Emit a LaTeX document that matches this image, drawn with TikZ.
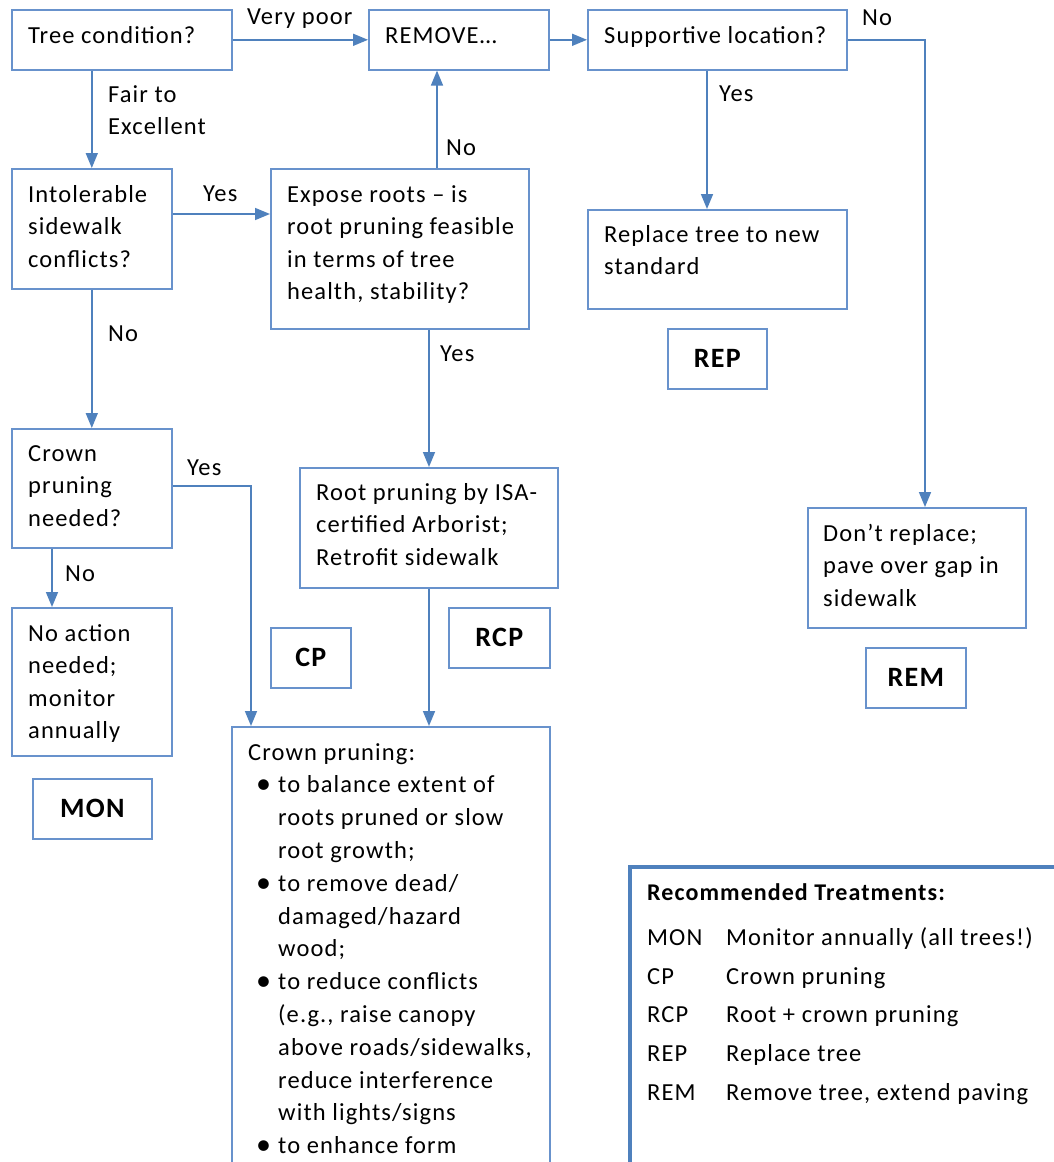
\documentclass[tikz,border=0pt]{standalone}
\usepackage{fontspec}
\setmainfont{Carlito}[LetterSpace=4.5]
\usetikzlibrary{arrows.meta}
\definecolor{linec}{RGB}{79,129,189}
\definecolor{boxc}{RGB}{104,146,204}
\newcommand\bl{\hspace*{8pt}\makebox[22pt][l]{\fontsize{30}{30}\selectfont\raisebox{-1pt}{•}}}
\newcommand\ct{\hspace*{30pt}}
\tikzset{
  bx/.style={draw=boxc, line width=1.6pt, inner sep=0pt, anchor=north west},
  code/.style={bx, font=\fontsize{28}{30}\selectfont\bfseries},
  txt/.style={inner sep=0pt, anchor=base west, font=\fontsize{24.5}{32.5}\selectfont},
  lbl/.style={inner sep=0pt, anchor=base west, font=\fontsize{24.5}{32.5}\selectfont},
  arr/.style={draw=linec, line width=1.6pt, -{Triangle[length=15pt,width=12pt]}},
  ln/.style={draw=linec, line width=1.6pt}
}
\begin{document}
\begin{tikzpicture}[x=1pt,y=-1pt]
\useasboundingbox (0,0) rectangle (1054,1162);
\clip (0,0) rectangle (1054,1162);
\fill[white] (0,0) rectangle (1054,1162);
% boxes
\node[bx, minimum width=220pt, minimum height=60pt] (tc) at (11,9) {};
\node[bx, minimum width=180pt, minimum height=60pt] (rem) at (368,9) {};
\node[bx, minimum width=259pt, minimum height=60pt] (sup) at (587,9) {};
\node[bx, minimum width=160pt, minimum height=120pt] (it) at (11,168) {};
\node[bx, minimum width=258pt, minimum height=160pt] (ex) at (270,168) {};
\node[bx, minimum width=259pt, minimum height=99pt] (rt) at (587,209) {};
\node[bx, minimum width=160pt, minimum height=119pt] (cn) at (11,428) {};
\node[bx, minimum width=258pt, minimum height=120pt] (rp) at (299,467) {};
\node[bx, minimum width=218pt, minimum height=120pt] (dr) at (807,507) {};
\node[bx, minimum width=160pt, minimum height=148pt] (na) at (11,607) {};
\node[bx, minimum width=318pt, minimum height=460pt] (cb) at (231,726) {};
\node[draw=linec, line width=4.5pt, inner sep=0pt, anchor=north west, minimum width=450pt, minimum height=330pt] (leg) at (627.5,864.5) {};
% code boxes
\node[code, minimum width=99pt, minimum height=60pt] (crep) at (667,328) {REP};
\node[code, minimum width=80pt, minimum height=60pt] (ccp) at (270,627) {CP};
\node[code, minimum width=101pt, minimum height=60pt] (crcp) at (448,607) {RCP};
\node[code, minimum width=100pt, minimum height=60pt] (crem) at (865,647) {REM};
\node[code, minimum width=119pt, minimum height=60pt] (cmon) at (32,778) {MON};
% box texts
\node[txt] (tc-t) at (28,43) {Tree condition?};
\node[txt] (rem-t) at (385,43) {REMOVE…};
\node[txt] (sup-t) at (604,43) {Supportive location?};
\node[txt] (it-t) at (28,202) {\parbox[t]{150pt}{Intolerable\\sidewalk\\conflicts?}};
\node[txt] (ex-t) at (287,202) {\parbox[t]{250pt}{Expose roots – is\\root pruning feasible\\in terms of tree\\health, stability?}};
\node[txt] (rt-t) at (604,242) {\parbox[t]{250pt}{Replace tree to new\\standard}};
\node[txt] (cn-t) at (28,461) {\parbox[t]{150pt}{Crown\\pruning\\needed?}};
\node[txt] (rp-t) at (316,500) {\parbox[t]{250pt}{Root pruning by ISA-\\certified Arborist;\\Retrofit sidewalk}};
\node[txt] (dr-t) at (823,541) {\parbox[t]{210pt}{Don’t replace;\\pave over gap in\\sidewalk}};
\node[txt] (na-t) at (28,641) {\parbox[t]{150pt}{No action\\needed;\\monitor\\annually}};
\node[txt, font=\fontsize{24.5}{32.8}\selectfont] (cb-t) at (248,760) {\parbox[t]{310pt}{Crown pruning:\\
\bl to balance extent of\\
\ct roots pruned or slow\\
\ct root growth;\\
\bl to remove dead/\\
\ct damaged/hazard\\
\ct wood;\\
\bl to reduce conflicts\\
\ct (e.g., raise canopy\\
\ct above roads/sidewalks,\\
\ct reduce interference\\
\ct with lights/signs\\
\bl to enhance form}};
% legend
\node[txt, font=\fontsize{24}{30}\selectfont\bfseries] (lg-t) at (647,900) {Recommended Treatments:};
\node[txt] (lg1a) at (647,945) {MON};
\node[txt] (lg1b) at (726,945) {Monitor annually (all trees!)};
\node[txt] (lg2a) at (647,984) {CP};
\node[txt] (lg2b) at (726,984) {Crown pruning};
\node[txt] (lg3a) at (647,1022.5) {RCP};
\node[txt] (lg3b) at (726,1022.5) {Root + crown pruning};
\node[txt] (lg4a) at (647,1061.5) {REP};
\node[txt] (lg4b) at (726,1061.5) {Replace tree};
\node[txt] (lg5a) at (647,1100.5) {REM};
\node[txt] (lg5b) at (726,1100.5) {Remove tree, extend paving};
% connectors
\draw[arr] (tc.east) -- (rem.west);
\draw[arr] (rem.east) -- (sup.west);
\draw[arr] (sup.east) -| (dr.north -| 925,0);
\draw[arr] (sup.south -| 707,0) -- (rt.north -| 707,0);
\draw[arr] (tc.south -| it.north) -- (it.north);
\draw[arr] (it.east |- 0,214) -- (ex.west |- 0,214);
\draw[arr] (ex.north -| 437,0) -- (rem.south -| 437,0);
\draw[arr] (ex.south -| 429,0) -- (rp.north -| 429,0);
\draw[arr] (it.south) -- (cn.north);
\draw[arr] (cn.south -| 52,0) -- (na.north -| 52,0);
\draw[arr] (cn.east |- 0,486) -| (cb.north -| 251,0);
\draw[arr] (rp.south -| 429,0) -- (cb.north -| 429,0);
% labels
\node[lbl] (l-vp) at (247,24) {Very poor};
\node[lbl] (l-fe) at (108,102) {\parbox[t]{150pt}{Fair to\\Excellent}};
\node[lbl] (l-y1) at (203,201) {Yes};
\node[lbl] (l-n1) at (446,155) {No};
\node[lbl] (l-n2) at (862,25) {No};
\node[lbl] (l-y2) at (719,101) {Yes};
\node[lbl] (l-y3) at (440,361) {Yes};
\node[lbl] (l-n3) at (108,341) {No};
\node[lbl] (l-y4) at (187,475) {Yes};
\node[lbl] (l-n4) at (65,581) {No};
\end{tikzpicture}
\end{document}
